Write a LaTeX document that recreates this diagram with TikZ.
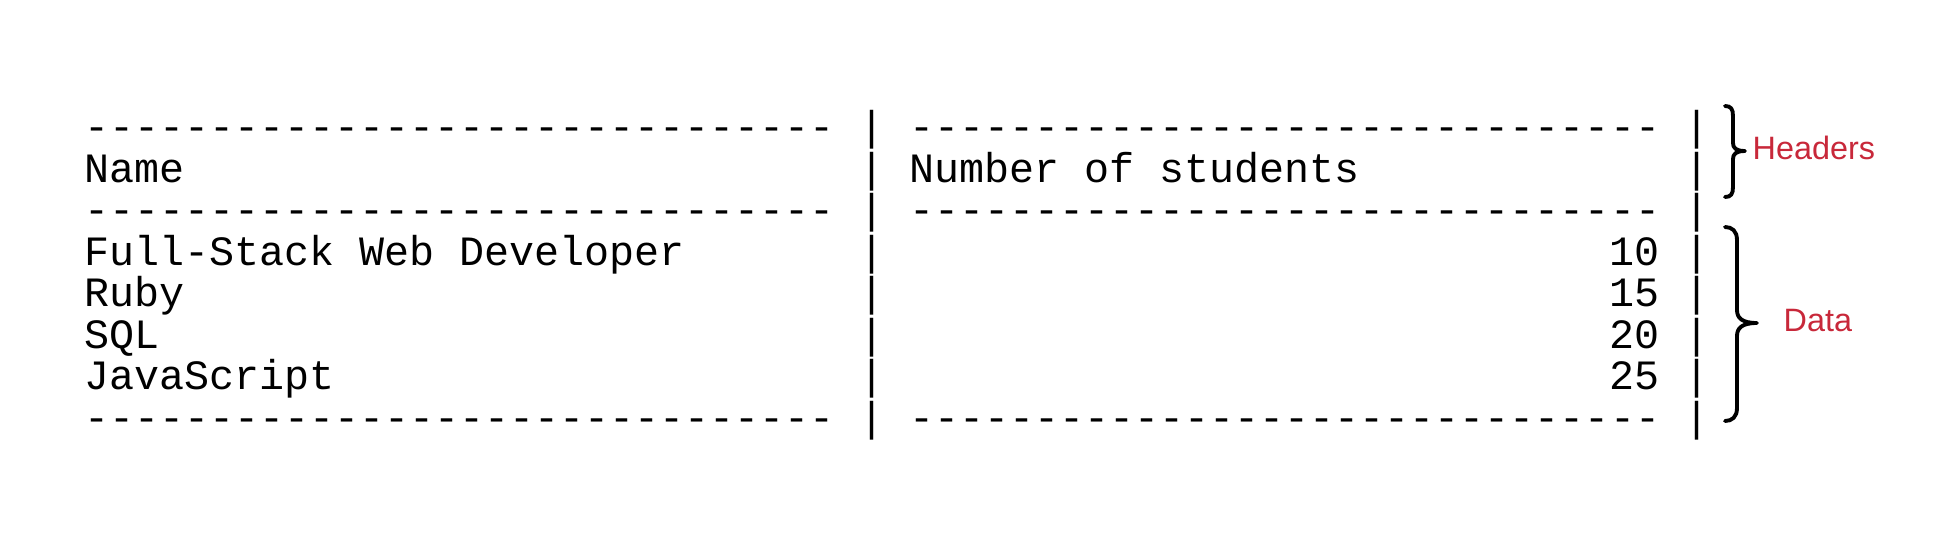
\documentclass[tikz,border=0pt]{standalone}
\usepackage{fontspec}
\setmainfont{Liberation Sans}
\setmonofont{Liberation Mono}
\definecolor{labred}{RGB}{200,40,58}
\newcommand{\dashrun}{------------------------------}
\begin{document}
\begin{tikzpicture}[x=0.01cm,y=-0.01cm,
  cell/.style={inner sep=0pt, outer sep=0pt, font=\ttfamily\fontsize{11.86pt}{11.86pt}\selectfont},
  lcell/.style={cell, anchor=base west},
  rcell/.style={cell, anchor=base east},
  bar/.style={cell, anchor=base},
  bracepath/.style={line width=1.1pt, line cap=round, line join=round},
  lab/.style={inner sep=0pt, text=labred, font=\fontsize{9.2pt}{9.2pt}\selectfont, anchor=west}]
\useasboundingbox (0,0) rectangle (1950,542);
\def\xo{84}\def\cw{25.01}
% dashed rule rows
\foreach \r/\b in {0/140.5, 2/223.5, 7/431}{
  \node[lcell] (dl\r) at ({\xo},\b) {\dashrun};
  \node[lcell] (dr\r) at ({\xo+33*\cw},\b) {\dashrun};
}
% header row
\node[lcell] (hname) at ({\xo},182) {Name};
\node[lcell] (hnum) at ({\xo+33*\cw},182) {Number of students};
% data rows
\node[lcell] (n3) at ({\xo},265) {Full-Stack Web Developer};
\node[lcell] (n4) at ({\xo},306.5) {Ruby};
\node[lcell] (n5) at ({\xo},348) {SQL};
\node[lcell] (n6) at ({\xo},389.5) {JavaScript};
\node[rcell] (v3) at ({\xo+63*\cw},265) {10};
\node[rcell] (v4) at ({\xo+63*\cw},306.5) {15};
\node[rcell] (v5) at ({\xo+63*\cw},348) {20};
\node[rcell] (v6) at ({\xo+63*\cw},389.5) {25};
% vertical bars
\foreach \r/\b in {0/140.5,1/182,2/223.5,3/265,4/306.5,5/348,6/389.5,7/431}{
  \node[bar] (pa\r) at ({\xo+31.5*\cw},\b) {|};
  \node[bar] (pb\r) at ({\xo+64.5*\cw},\b) {|};
}
% headers brace
\draw[bracepath] (1725,106) .. controls (1731,106) and (1733,109) .. (1733,116)
  -- (1733,143) .. controls (1733,148) and (1736,151) .. (1745,151)
  .. controls (1736,151) and (1733,154) .. (1733,159)
  -- (1733,187) .. controls (1733,194) and (1731,197) .. (1725,197);
% data brace
\draw[bracepath] (1725,227) .. controls (1732,227) and (1737,231) .. (1737,240)
  -- (1737,310) .. controls (1737,318) and (1742,323) .. (1757,323)
  .. controls (1742,323) and (1737,328) .. (1737,336)
  -- (1737,408) .. controls (1737,417) and (1732,421) .. (1725,421);
\node[lab] (headers) at (1752,148) {Headers};
\node[lab] (data) at (1783,321) {Data};
\end{tikzpicture}
\end{document}
